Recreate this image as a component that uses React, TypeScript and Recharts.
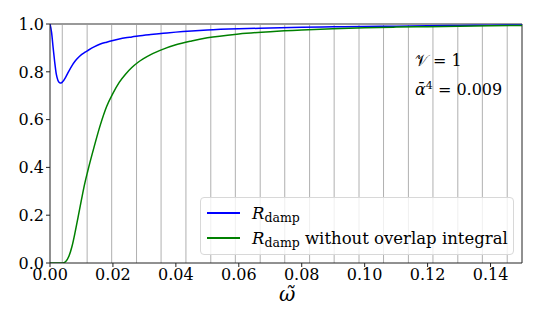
import { Line, LineChart, ReferenceLine, XAxis, YAxis } from "recharts";

// omega-tilde sample points and the two damping curves
const omega = [
  0, 0.0005, 0.001, 0.0015, 0.002, 0.0025, 0.003, 0.0035, 0.004, 0.005, 0.006, 0.007, 0.008, 0.009, 0.01,
  0.011, 0.012, 0.014, 0.016, 0.018, 0.02, 0.022, 0.024, 0.026, 0.028, 0.032, 0.036, 0.04, 0.045, 0.05, 0.06,
  0.07, 0.08, 0.09, 0.1, 0.11, 0.12, 0.13, 0.14, 0.15,
];
const rDamp = [
  1.0, 0.965, 0.9, 0.84, 0.79, 0.765, 0.755, 0.753, 0.758, 0.778, 0.803, 0.826, 0.845, 0.86, 0.872,
  0.881, 0.889, 0.904, 0.916, 0.924, 0.931, 0.937, 0.942, 0.946, 0.95, 0.956, 0.961, 0.966, 0.971, 0.975, 0.98,
  0.983, 0.986, 0.988, 0.99, 0.991, 0.993, 0.994, 0.995, 0.996,
];
const rDampNoOverlap = [
  0, 0, 0, 0, 0, 0, 0, 0, 0, 0.006, 0.028, 0.07, 0.13, 0.197, 0.265,
  0.33, 0.385, 0.485, 0.578, 0.655, 0.71, 0.756, 0.79, 0.818, 0.84, 0.872, 0.895, 0.913, 0.929, 0.942, 0.958,
  0.968, 0.975, 0.98, 0.984, 0.987, 0.989, 0.991, 0.993, 0.994,
];
const xTicks = [0, 0.02, 0.04, 0.06, 0.08, 0.1, 0.12, 0.14];
const yTicks = [0, 0.2, 0.4, 0.6, 0.8, 1.0];
// vertical guide lines
const gridOmega = [
  0.0039, 0.0118, 0.0196, 0.0275, 0.0353, 0.0432, 0.0511, 0.0589, 0.0668, 0.0746, 0.0825, 0.0903, 0.0982,
  0.106, 0.1139, 0.1217, 0.1296, 0.1374, 0.1453,
];

const data = omega.map((w, i) => ({ omega: w, rDamp: rDamp[i], rDampNoOverlap: rDampNoOverlap[i] }));

const serif = "'DejaVu Serif', 'Liberation Serif', serif";

function XTick({ x, y, payload }: any) {
  return (
    <text x={x} y={y} dy="0.71em" textAnchor="middle" fill="#000" style={{ fontSize: 16, fontFamily: serif }}>
      {Number(payload.value).toFixed(2)}
    </text>
  );
}

function YTick({ x, y, payload }: any) {
  return (
    <text x={x} y={y} dy="0.36em" textAnchor="end" fill="#000" style={{ fontSize: 16, fontFamily: serif }}>
      {Number(payload.value).toFixed(1)}
    </text>
  );
}

function DampLabel({ suffix }: { suffix?: string }) {
  return (
    <span>
      <i>R</i>
      <span style={{ fontSize: 12.5, position: "relative", top: 3 }}>damp</span>
      {suffix}
    </span>
  );
}

export default function App() {
  return (
    <div style={{ position: "absolute", left: 0, top: 0, width: 540, height: 324, fontFamily: serif, background: "#fff" }}>
      <LineChart width={540} height={324} data={data} margin={{ top: 24, right: 18, bottom: 31, left: 0 }}>
        {gridOmega.map((g) => (
          <ReferenceLine key={g} x={g} stroke="#b0b0b0" strokeWidth={1} />
        ))}
        <ReferenceLine y={1} stroke="#999" strokeWidth={2} />
        <ReferenceLine x={0.15} stroke="#222" strokeWidth={1} />
        <XAxis
          dataKey="omega"
          type="number"
          domain={[0, 0.15]}
          ticks={xTicks}
          height={30}
          stroke="#222"
          tickSize={4}
          tickMargin={2}
          tick={<XTick />}
          allowDataOverflow
        />
        <YAxis
          type="number"
          domain={[0, 1]}
          ticks={yTicks}
          width={50}
          stroke="#222"
          tickSize={4}
          tickMargin={2}
          tick={<YTick />}
          allowDataOverflow
        />
        <Line type="monotone" dataKey="rDamp" stroke="#0000ff" strokeWidth={1.5} dot={false} isAnimationActive={false} />
        <Line type="monotone" dataKey="rDampNoOverlap" stroke="#008000" strokeWidth={1.5} dot={false} isAnimationActive={false} />
      </LineChart>

      <div style={{ position: "absolute", left: 415, top: 48, fontSize: 16, lineHeight: "25px" }}>
        <div>𝒱 = 1</div>
        <div>
          <i>ᾱ</i>
          <sup style={{ fontSize: 11 }}>4</sup> = 0.009
        </div>
      </div>

      <div
        style={{
          position: "absolute",
          left: 200,
          top: 197,
          width: 312,
          height: 56,
          border: "1px solid #d8d8d8",
          borderRadius: 4,
          background: "rgba(255,255,255,0.8)",
          fontSize: 16.5,
        }}
      >
        {[
          { color: "#0000ff", suffix: "" },
          { color: "#008000", suffix: " without overlap integral" },
        ].map((row, i) => (
          <div key={i} style={{ position: "absolute", left: 6, top: 4 + i * 25, height: 22, display: "flex", alignItems: "center" }}>
            <div style={{ width: 33, height: 1.5, background: row.color, marginRight: 12 }} />
            <DampLabel suffix={row.suffix} />
          </div>
        ))}
      </div>

      <div style={{ position: "absolute", left: 279, top: 282, fontSize: 20, fontStyle: "italic" }}>ω̃</div>
    </div>
  );
}
